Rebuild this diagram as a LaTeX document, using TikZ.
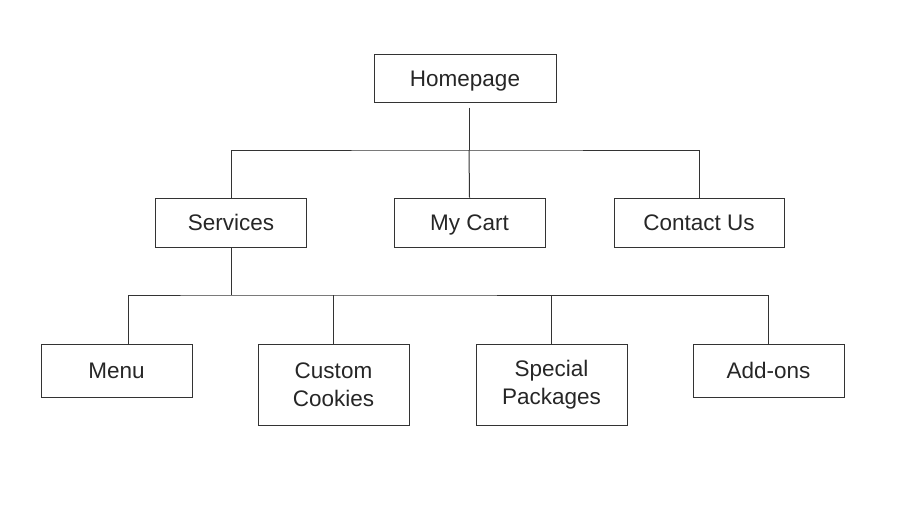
\documentclass[tikz,border=0pt]{standalone}
\usepackage{fontspec}
\setmainfont{Liberation Sans}
\usetikzlibrary{positioning}

\begin{document}
\begin{tikzpicture}[x=1pt,y=-1pt,
  page/.style={draw=black!80,line width=1pt,minimum width=151pt,inner sep=0pt,
    align=center,text=black!85,font=\fontsize{22.5}{28}\selectfont},
  oneline/.style={text height=16pt,text depth=0pt},
  link/.style={draw=black!80,line width=1pt}]

\useasboundingbox (0,0) rectangle (907,520);

\node[page,oneline,minimum width=182pt,minimum height=48pt] (home) at (465,78) {Homepage};

\node[page,oneline,minimum height=49pt] (serv) at (231,222.5) {Services};
\node[page,oneline,minimum height=49pt] (cart) at (469.5,222.5) {My Cart};
\node[page,oneline,minimum width=170pt,minimum height=49pt] (contact) at (699,222.5) {Contact Us};

\node[page,oneline,minimum height=53pt] (menu) at (116.5,370.5) {Menu};
\node[page,minimum height=81pt] (cookies) at (333.5,384.5) {Custom\\Cookies};
\node[page,minimum height=81pt] (packages) at (551.5,384.5) {Special\\Packages};
\node[page,oneline,minimum height=53pt] (addons) at (768.5,370.5) {Add-ons};

\coordinate (top) at (469,150); % first bar
\coordinate (mid) at (231,295); % second bar

\draw[link] ([xshift=4pt,yshift=-5pt]home.south) -- (top);
\draw[link] (serv.north) |- (top) -| (contact.north);
\draw[link] (cart.north) -- (top);

\draw[link] (serv.south) -- (mid);
\draw[link] ([xshift=11.5pt]menu.north) |- (mid) -| (addons.north);
\draw[link] (cookies.north) -- (cookies.north |- mid);
\draw[link] (packages.north) -- (packages.north |- mid);

\end{tikzpicture}
\end{document}
